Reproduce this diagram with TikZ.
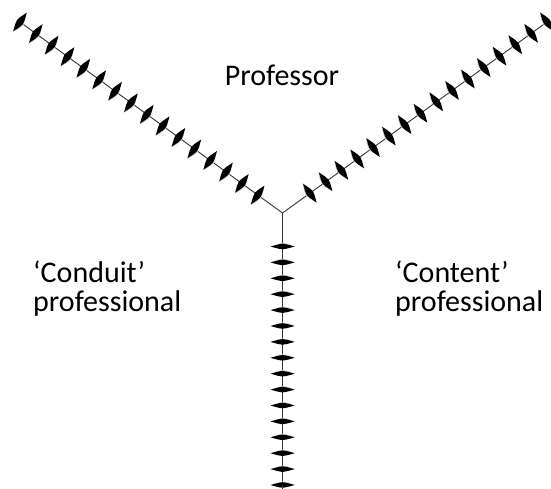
\documentclass[tikz,border=0pt]{standalone}
\usepackage{fontspec}
\setmainfont{Carlito}
\usetikzlibrary{decorations.markings}
% pointed spindle: half thickness #1 along the arm, half length #2 across it
\newcommand\spindle[2]{(#1,0) .. controls (0.85*#1,0.3*#2) .. (0,#2)
  .. controls (-0.85*#1,0.3*#2) .. (-#1,0) .. controls (-0.85*#1,-0.3*#2) .. (0,-#2)
  .. controls (0.85*#1,-0.3*#2) .. (#1,0) -- cycle}
\tikzset{
  stem/.style     = {draw=black!80, line width=0.9pt},
  barbed/.style n args = {3}{stem, postaction={decorate},
    decoration={markings, mark=between positions 0 and -24pt step #1 with {
      \fill[black!20] \spindle{#2+0.8}{#3+1};
      \fill[black] \spindle{#2}{#3};}}},
  rolename/.style = {font=\fontsize{30}{29}\selectfont, inner sep=0pt, align=left},
}
\begin{document}
\begin{tikzpicture}[x=1pt, y=-1pt]
    \useasboundingbox (0,0) rectangle (551,488);

    % junction and arm ends
    \coordinate (hub)   at (282.5,213);
    \coordinate (tl)    at (20,22);
    \coordinate (tr)    at (547,22);
    \coordinate (bot)   at (282.5,485);
    \coordinate (edge)  at (282.5,492);

    % the three arms
    \draw[barbed={19.6pt}{3.6}{11.5}] (tl) -- (hub);
    \draw[barbed={19.5pt}{3.6}{11.5}] (tr) -- (hub);
    \draw[barbed={15.9pt}{2.8}{12}] (bot) -- (hub);
    \draw[stem] (bot) -- (edge);

    % roles (base = last line)
    \node[rolename, anchor=base] (prof) at (282,85) {Professor};
    \node[rolename, anchor=base west] (conduit) at (33,311) {‘Conduit’\\professional};
    \node[rolename, anchor=base west] (content) at (395,311) {‘Content’\\professional};
\end{tikzpicture}
\end{document}
